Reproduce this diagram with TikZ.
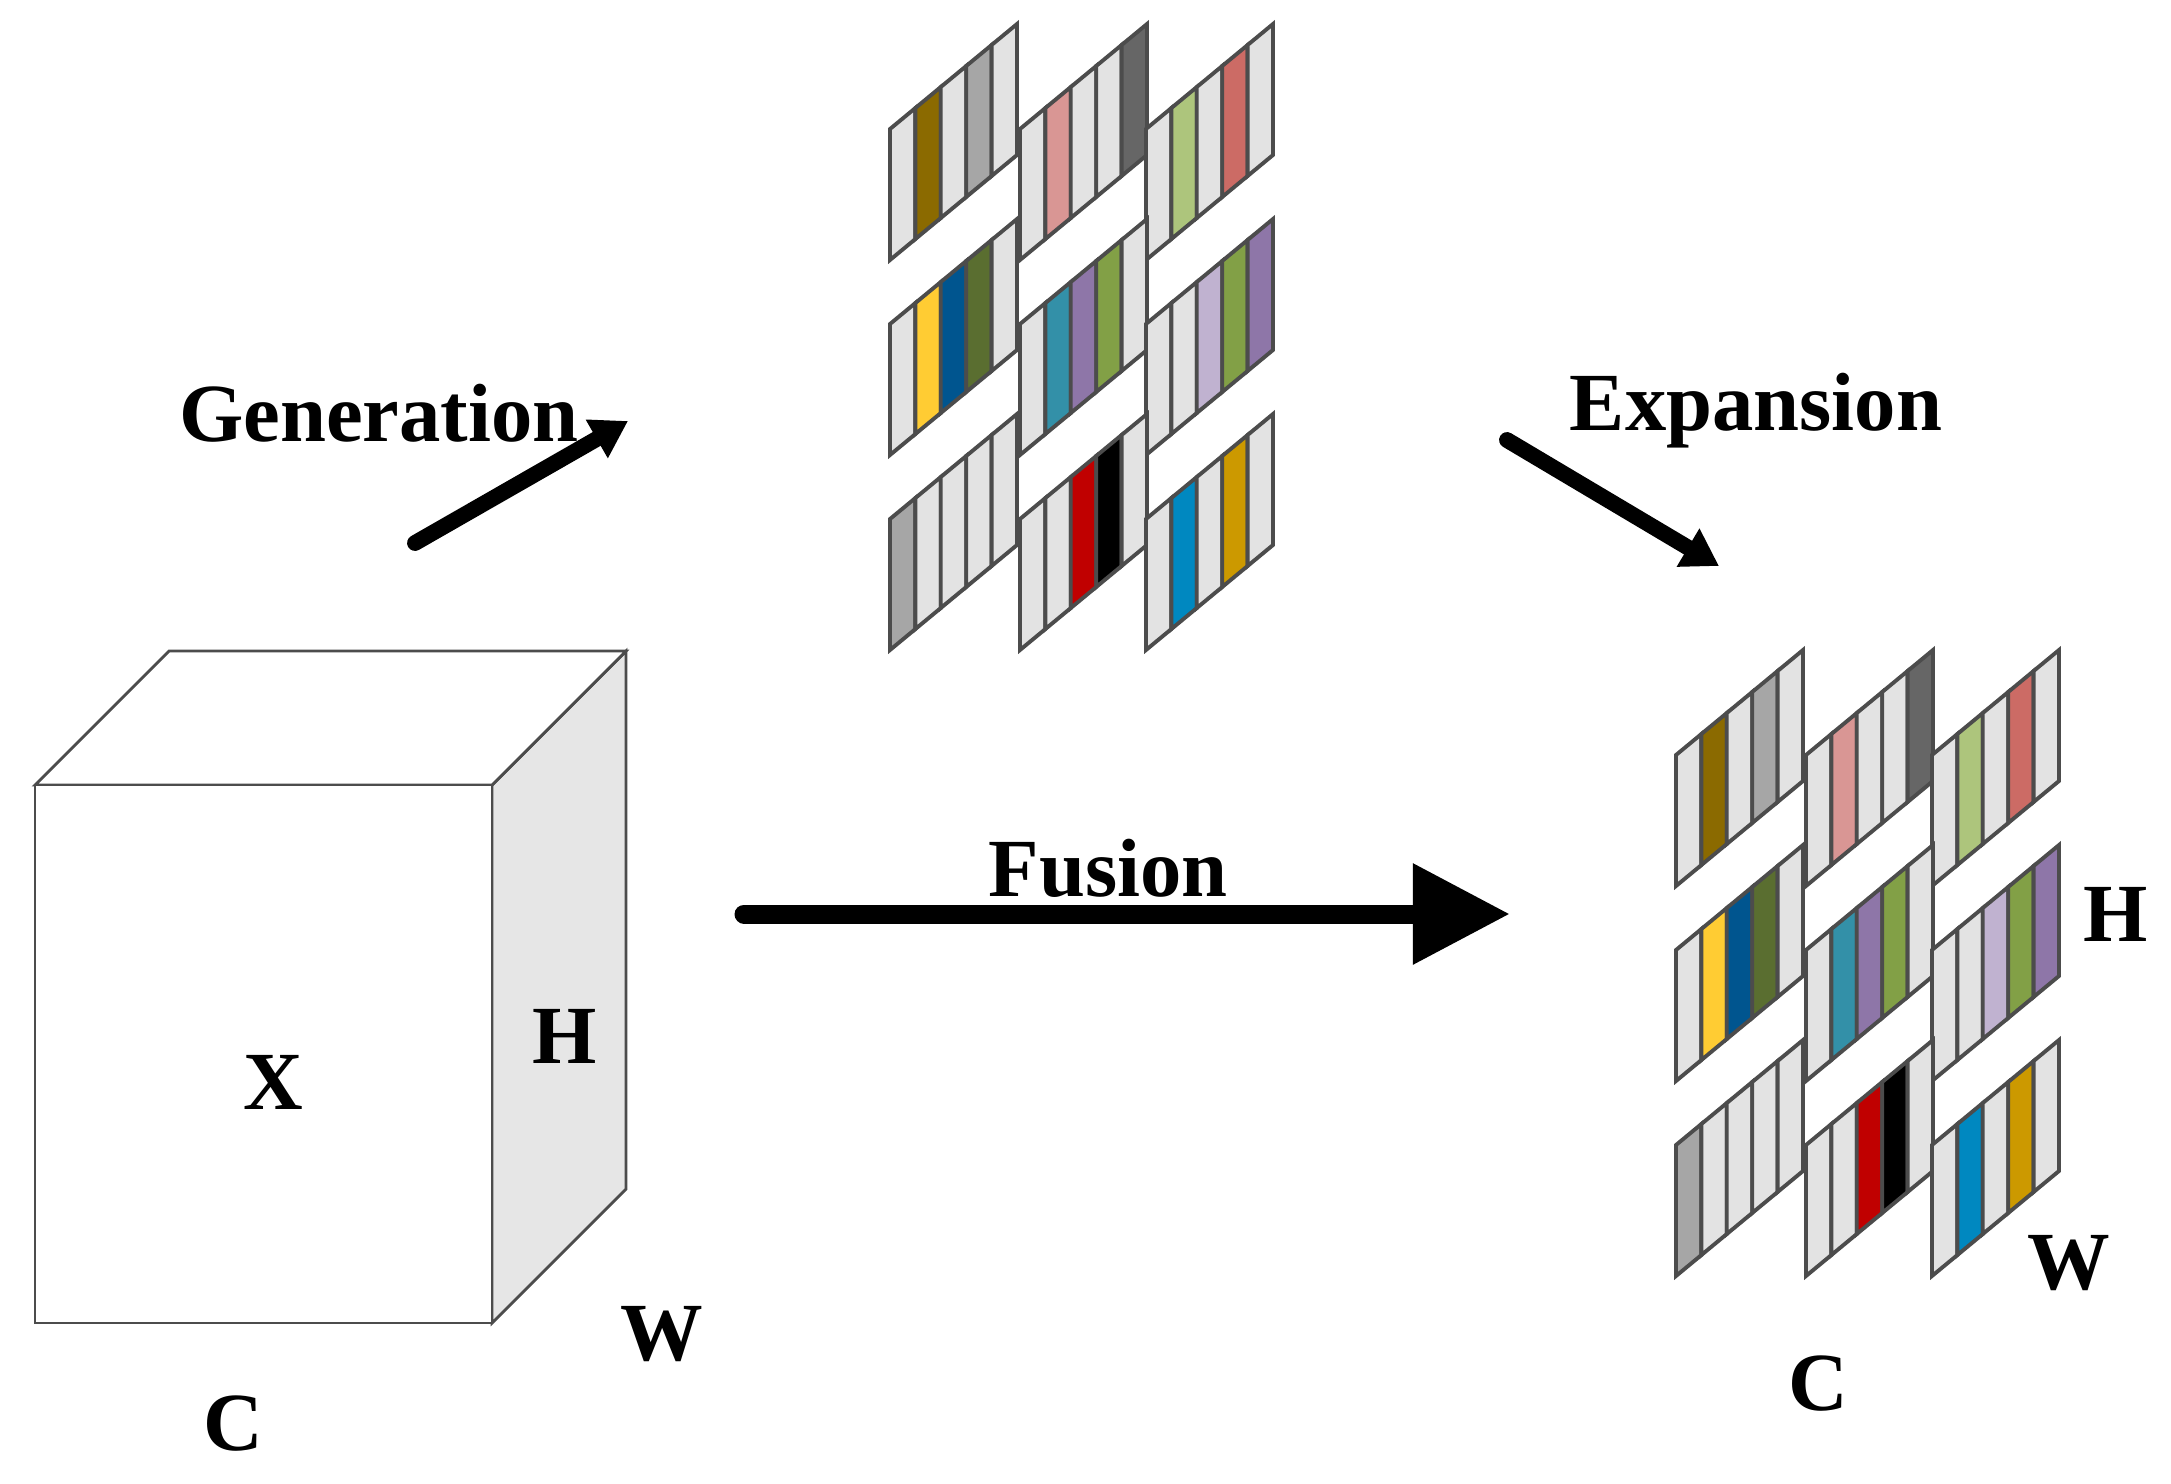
\documentclass[tikz,border=0pt]{standalone}
\usepackage{fontspec}
\setmainfont{Liberation Serif}
\usetikzlibrary{arrows.meta}
\definecolor{L}{HTML}{E3E3E3}
\definecolor{brn}{HTML}{8B6A00}
\definecolor{gry}{HTML}{A6A6A6}
\definecolor{pnk}{HTML}{D99694}
\definecolor{dgr}{HTML}{666666}
\definecolor{lgn}{HTML}{ADC57C}
\definecolor{rdl}{HTML}{CC6B65}
\definecolor{yel}{HTML}{FFCC33}
\definecolor{blu}{HTML}{00558F}
\definecolor{dgn}{HTML}{5A6E30}
\definecolor{tea}{HTML}{3390A8}
\definecolor{pur}{HTML}{8E76A8}
\definecolor{grn}{HTML}{82A046}
\definecolor{lil}{HTML}{C0B2D0}
\definecolor{red}{HTML}{C00000}
\definecolor{cya}{HTML}{0088C0}
\definecolor{gld}{HTML}{CC9900}
\definecolor{side}{HTML}{E6E6E6}
\newcommand\stripblk[3]{%
  \foreach \c [count=\i from 0] in {#3} {
    \filldraw[strip, fill=\c] ({#1+\i*25.4},{#2-\i*21}) -- ++(25.4,-21) -- ++(0,-131) -- ++(-25.4,21) -- cycle;
  }}
\newcommand\stripgroup[2]{%
  \begin{scope}[shift={(#1,#2)}]
  \stripblk{0}{0}{L,brn,L,gry,L}
  \stripblk{130}{0}{L,pnk,L,L,dgr}
  \stripblk{256}{0}{L,lgn,L,rdl,L}
  \stripblk{0}{195}{L,yel,blu,dgn,L}
  \stripblk{130}{195}{L,tea,pur,grn,L}
  \stripblk{256}{195}{L,L,lil,grn,pur}
  \stripblk{0}{390}{gry,L,L,L,L}
  \stripblk{130}{390}{L,L,red,black,L}
  \stripblk{256}{390}{L,cya,L,gld,L}
  \end{scope}}
\begin{document}
\begin{tikzpicture}[x=0.01cm,y=-0.01cm,
  strip/.style={draw=black!70, line width=1.1pt},
  lbl/.style={font=\fontsize{23.5}{28}\selectfont\bfseries, inner sep=0pt},
  arr/.style={line width=4.5pt, line cap=round, -{Triangle[length=0.36cm,width=0.42cm]}}]
\useasboundingbox (0,0) rectangle (2171,1484);
% cube
\filldraw[draw=black!70, line width=0.8pt, fill=side] (492,785) -- (626,651) -- (626,1189) -- (492,1323) -- cycle;
\filldraw[draw=black!70, line width=0.8pt, fill=white] (35,785) -- (169,651) -- (626,651) -- (492,785) -- cycle;
\filldraw[draw=black!70, line width=0.8pt, fill=white] (35,785) rectangle (492,1323);
\node[lbl] (X) at (273,1082) {X};
\node[lbl] (H1) at (565,1036) {H};
\node[lbl] (W1) at (662,1334) {W};
\node[lbl] (C1) at (233,1424) {C};
% groups
\stripgroup{890}{260}
\stripgroup{1676}{886}
\node[lbl] (H2) at (2116,914) {H};
\node[lbl] (W2) at (2069,1263) {W};
\node[lbl] (C2) at (1818,1384) {C};
% arrows
\coordinate (g1) at (415,543); \coordinate (g2) at (628,421);
\draw[arr] (g1) -- (g2);
\node[lbl] (gen) at (379,413) {Generation};
\coordinate (e1) at (1507,440); \coordinate (e2) at (1719,566);
\draw[arr] (e1) -- (e2);
\node[lbl] (exp) at (1756,411) {Expansion};
\coordinate (f1) at (744,914); \coordinate (f2) at (1510,914);
\draw[line width=5.4pt, line cap=round, -{Triangle[length=0.97cm,width=0.96cm]}] (f1) -- (f2);
\node[lbl] (fus) at (1108,868) {Fusion};
\end{tikzpicture}
\end{document}
